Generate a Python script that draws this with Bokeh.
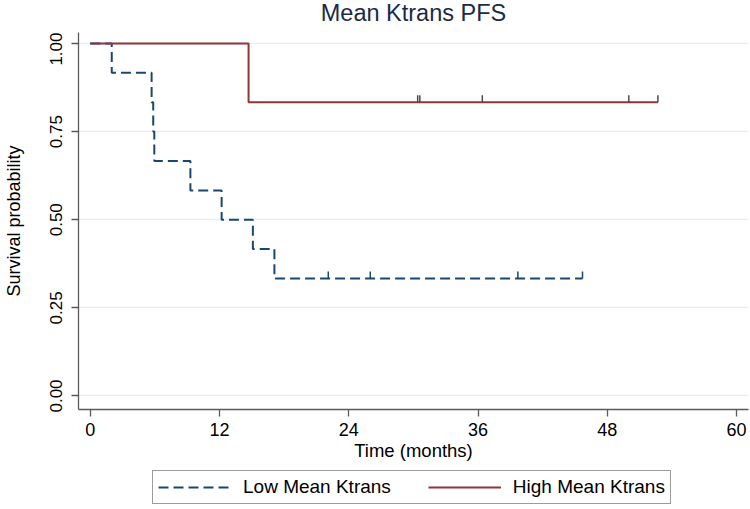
import numpy as np
from bokeh.plotting import figure
from bokeh.layouts import column
from bokeh.models import (Range1d, FixedTicker, NumeralTickFormatter, Legend,
                          LegendItem, Label)
from bokeh.embed import file_html
from bokeh.resources import INLINE

# ---------------- data ----------------
title_text = "Mean Ktrans PFS"
x_label = "Time (months)"
y_label = "Survival probability"
x_ticks = [0, 12, 24, 36, 48, 60]
y_ticks = [0.0, 0.25, 0.5, 0.75, 1.0]

series_names = ["Low Mean Ktrans", "High Mean Ktrans"]

low_times = [0.0, 2.0, 5.7, 5.85, 5.95, 9.3, 12.2, 15.1, 17.1, 45.7]
low_surv = [1.0, 0.917, 0.833, 0.75, 0.667, 0.583, 0.5, 0.417, 0.333, 0.333]
low_censor_times = [22.1, 26.0, 39.7, 45.7]
low_censor_surv = [0.333, 0.333, 0.333, 0.333]

high_times = [0.0, 14.7, 52.7]
high_surv = [1.0, 0.833, 0.833]
high_censor_times = [30.4, 30.6, 36.4, 50.0, 52.7]
high_censor_surv = [0.833, 0.833, 0.833, 0.833, 0.833]

# ---------------- style ----------------
FONT = "Liberation Sans"
BLUE = "#1a476f"
RED = "#90353b"
AXIS = "#5a5a5a"
GRID = "#e6eef1"
TICK_LEN = 0.02
W = 750


def strip(height):
    f = figure(width=W, height=height, x_axis_type=None, y_axis_type=None,
               x_range=Range1d(0, 1), y_range=Range1d(0, 1),
               output_backend="svg", toolbar_location=None,
               min_border_left=0, min_border_right=0, min_border_top=0,
               min_border_bottom=0, background_fill_color="white",
               border_fill_color="white")
    f.outline_line_color = None
    f.grid.grid_line_color = None
    return f


# ---------------- title strip ----------------
t = strip(32)
t.add_layout(Label(x=0.5, y=0.625, text=title_text, text_align="center",
                   text_baseline="alphabetic", text_font=FONT,
                   text_font_size="23.5px", text_color="#1c2a48"))

# ---------------- main plot ----------------
p = figure(width=W, height=434,
           x_range=Range1d(-1.087, 61.11), y_range=Range1d(-0.0383, 1.0312),
           output_backend="svg", toolbar_location=None,
           min_border_left=78, min_border_right=2, min_border_top=0,
           min_border_bottom=57, background_fill_color="white",
           border_fill_color="white")
p.outline_line_color = None

for ax in (p.xaxis, p.yaxis):
    ax.axis_line_color = AXIS
    ax.axis_line_width = 1.3
    ax.major_tick_line_color = AXIS
    ax.major_tick_line_width = 1.3
    ax.major_tick_out = 7
    ax.major_tick_in = 0
    ax.minor_tick_line_color = None
    ax.major_label_text_font = FONT
    ax.major_label_text_color = "black"
    ax.axis_label_text_font = FONT
    ax.axis_label_text_font_style = "normal"
    ax.axis_label_text_color = "black"

p.xaxis.ticker = FixedTicker(ticks=x_ticks)
p.xaxis.major_label_text_font_size = "18px"
p.xaxis.major_label_standoff = 6
p.xaxis.axis_label = x_label
p.xaxis.axis_label_text_font_size = "18.5px"
p.xaxis.axis_label_standoff = 1

p.yaxis.ticker = FixedTicker(ticks=y_ticks)
p.yaxis.formatter = NumeralTickFormatter(format="0.00")
p.yaxis.major_label_orientation = "vertical"
p.yaxis.major_label_text_font_size = "17px"
p.yaxis.major_label_standoff = 9
p.yaxis.axis_label = y_label
p.yaxis.axis_label_text_font_size = "18px"
p.yaxis.axis_label_standoff = 24

p.xgrid.grid_line_color = None
p.ygrid.ticker = FixedTicker(ticks=y_ticks)
p.ygrid.grid_line_color = GRID
p.ygrid.grid_line_width = 1.5

r_low = p.step(low_times, low_surv, mode="after", line_color=BLUE,
               line_width=2, line_dash="10 5")
r_high = p.step(high_times, high_surv, mode="after", line_color=RED,
                line_width=2)

lc = np.array(low_censor_surv)
hc = np.array(high_censor_surv)
p.segment(x0=low_censor_times, y0=lc, x1=low_censor_times, y1=lc + TICK_LEN,
          line_color=BLUE, line_width=1.5)
p.segment(x0=high_censor_times, y0=hc, x1=high_censor_times, y1=hc + TICK_LEN,
          line_color="#4a4a4a", line_width=1.5)

# ---------------- legend strip ----------------
q = strip(43)
q.x_range = Range1d(100, 101)   # keep the sample curves out of view
q_low = q.step(low_times, low_surv, mode="after", line_color=BLUE,
               line_width=2, line_dash="10 5")
q_high = q.step(high_times, high_surv, mode="after", line_color=RED,
                line_width=2)

legend = Legend(items=[LegendItem(label=series_names[0], renderers=[q_low]),
                       LegendItem(label=series_names[1], renderers=[q_high])],
                orientation="horizontal", location=(74, 5))
legend.border_line_color = "#3a3a3a"
legend.border_line_width = 1
legend.background_fill_color = "white"
legend.background_fill_alpha = 1
legend.label_text_font = FONT
legend.label_text_font_size = "19px"
legend.label_text_color = "black"
legend.glyph_width = 73
legend.glyph_height = 18
legend.label_height = 18
legend.label_standoff = 12
legend.spacing = 37
legend.padding = 5
legend.margin = 0
q.add_layout(legend, "center")

layout = column(t, p, q, spacing=0)
open("out.html", "w").write(file_html(layout, INLINE))
